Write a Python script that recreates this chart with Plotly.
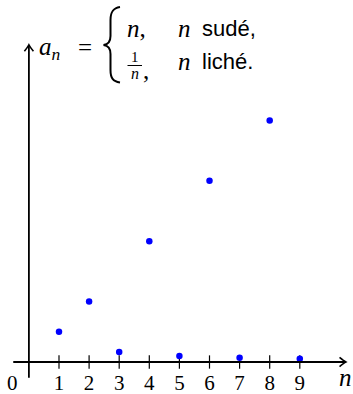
import plotly.graph_objects as go

# Sequence a_n: n for even n, 1/n for odd n
n_values = [1, 2, 3, 4, 5, 6, 7, 8, 9]
a_values = [1, 2, 0.333, 4, 0.2, 6, 0.143, 8, 0.111]
tick_labels = ["1", "2", "3", "4", "5", "6", "7", "8", "9"]

W, H = 353, 394
X0_PX, Y0_PX = 28.9, 362.0      # pixel position of the origin
UNIT_X, UNIT_Y = 30.1, 30.2     # pixels per unit
x_range = [-X0_PX / UNIT_X, (W - X0_PX) / UNIT_X]
y_range = [-(H - Y0_PX) / UNIT_Y, Y0_PX / UNIT_Y]

AXIS_START = -0.52
X_AXIS_END = 10.53
Y_AXIS_END = 10.5


def px_x(px):
    return (px - X0_PX) / UNIT_X


def px_y(py):
    return (Y0_PX - py) / UNIT_Y


def paper_x(px):
    return px / W


def paper_y(py):
    return 1 - py / H


SERIF = "'Liberation Serif', 'Times New Roman', serif"
SANS = "'Liberation Sans', Arial, sans-serif"

fig = go.Figure()

# tick marks on the n axis
tick_x, tick_y = [], []
for n in n_values:
    tick_x += [n, n, None]
    tick_y += [-0.22, 0.22, None]
fig.add_trace(go.Scatter(x=tick_x, y=tick_y, mode="lines",
                         line=dict(color="black", width=1.2),
                         hoverinfo="skip", showlegend=False))

# tick labels
fig.add_trace(go.Scatter(x=n_values, y=[-0.76] * len(n_values), mode="text",
                         text=tick_labels, cliponaxis=False,
                         textfont=dict(family=SERIF, size=21, color="black"),
                         hoverinfo="skip", showlegend=False))

# sequence points
fig.add_trace(go.Scatter(x=n_values, y=a_values, mode="markers",
                         marker=dict(color="#0000ff", size=6.5),
                         cliponaxis=False, showlegend=False))

annotations = [
    # axis labels
    dict(x=px_x(12), y=px_y(383), text="0", showarrow=False,
         font=dict(family=SERIF, size=21, color="black")),
    dict(x=px_x(345), y=px_y(377), text="<i>n</i>", showarrow=False,
         font=dict(family=SERIF, size=25, color="black")),
    # formula: a_n = { n, n sudé, ; 1/n, n liché.
    dict(x=px_x(50), y=px_y(48), text="<i>a</i><sub><i>n</i></sub>", showarrow=False,
         font=dict(family=SERIF, size=25, color="black")),
    dict(x=px_x(85), y=px_y(47), text="=", showarrow=False,
         font=dict(family=SERIF, size=25, color="black")),
    dict(x=px_x(136), y=px_y(28), text="<i>n</i>,", showarrow=False,
         font=dict(family=SERIF, size=25, color="black")),
    dict(x=px_x(134.5), y=px_y(57), text="1", showarrow=False,
         font=dict(family=SERIF, size=15, color="black")),
    dict(x=px_x(134.5), y=px_y(73), text="<i>n</i>", showarrow=False,
         font=dict(family=SERIF, size=16, color="black")),
    dict(x=px_x(146), y=px_y(70), text=",", showarrow=False,
         font=dict(family=SERIF, size=25, color="black")),
    dict(x=px_x(184), y=px_y(28), text="<i>n</i>", showarrow=False,
         font=dict(family=SERIF, size=25, color="black")),
    dict(x=px_x(200), y=px_y(28), text="sudé,", showarrow=False, xanchor="left",
         font=dict(family=SANS, size=22, color="black")),
    dict(x=px_x(184), y=px_y(61), text="<i>n</i>", showarrow=False,
         font=dict(family=SERIF, size=25, color="black")),
    dict(x=px_x(200), y=px_y(61), text="liché.", showarrow=False, xanchor="left",
         font=dict(family=SANS, size=22, color="black")),
]

# brace of the piecewise definition
brace_pts = [
    ("M", [(120, 7)]),
    ("C", [(113, 8), (110.5, 12), (110.5, 20)]),
    ("L", [(110.5, 36)]),
    ("C", [(110.5, 42), (108, 44.5), (103.5, 45)]),
    ("C", [(108, 45.5), (110.5, 48), (110.5, 54)]),
    ("L", [(110.5, 70)]),
    ("C", [(110.5, 78), (113, 81.5), (120, 82.5)]),
]
brace_path = ""
for cmd, pts in brace_pts:
    brace_path += cmd + " " + " ".join(f"{paper_x(a):.5f},{paper_y(b):.5f}" for a, b in pts) + " "

# open "to" arrow tips at the ends of both axes
HEAD_LEN, HEAD_HALF = 0.21, 0.15
x_head = (f"M {X_AXIS_END - HEAD_LEN},{HEAD_HALF} "
          f"Q {X_AXIS_END - 0.06},{0.03} {X_AXIS_END},0 "
          f"Q {X_AXIS_END - 0.06},{-0.03} {X_AXIS_END - HEAD_LEN},{-HEAD_HALF}")
y_head = (f"M {-HEAD_HALF},{Y_AXIS_END - HEAD_LEN} "
          f"Q {-0.03},{Y_AXIS_END - 0.06} 0,{Y_AXIS_END} "
          f"Q {0.03},{Y_AXIS_END - 0.06} {HEAD_HALF},{Y_AXIS_END - HEAD_LEN}")

axis_line = dict(color="black", width=1.8)
shapes = [
    dict(type="line", xref="x", yref="y", x0=AXIS_START, x1=X_AXIS_END - 0.02,
         y0=0, y1=0, line=axis_line),
    dict(type="line", xref="x", yref="y", x0=0, x1=0,
         y0=AXIS_START, y1=Y_AXIS_END - 0.02, line=axis_line),
    dict(type="path", xref="x", yref="y", path=x_head,
         line=dict(color="black", width=1.6)),
    dict(type="path", xref="x", yref="y", path=y_head,
         line=dict(color="black", width=1.6)),
    dict(type="path", path=brace_path.strip(), xref="paper", yref="paper",
         line=dict(color="black", width=2)),
    # fraction bar of 1/n
    dict(type="line", xref="paper", yref="paper",
         x0=paper_x(127.5), x1=paper_x(142), y0=paper_y(65.5), y1=paper_y(65.5),
         line=dict(color="black", width=1)),
]

fig.update_layout(
    width=W, height=H,
    margin=dict(l=0, r=0, t=0, b=0),
    paper_bgcolor="white", plot_bgcolor="white",
    xaxis=dict(range=x_range, visible=False, fixedrange=True),
    yaxis=dict(range=y_range, visible=False, fixedrange=True),
    annotations=annotations,
    shapes=shapes,
)

fig.write_html("out.html")
